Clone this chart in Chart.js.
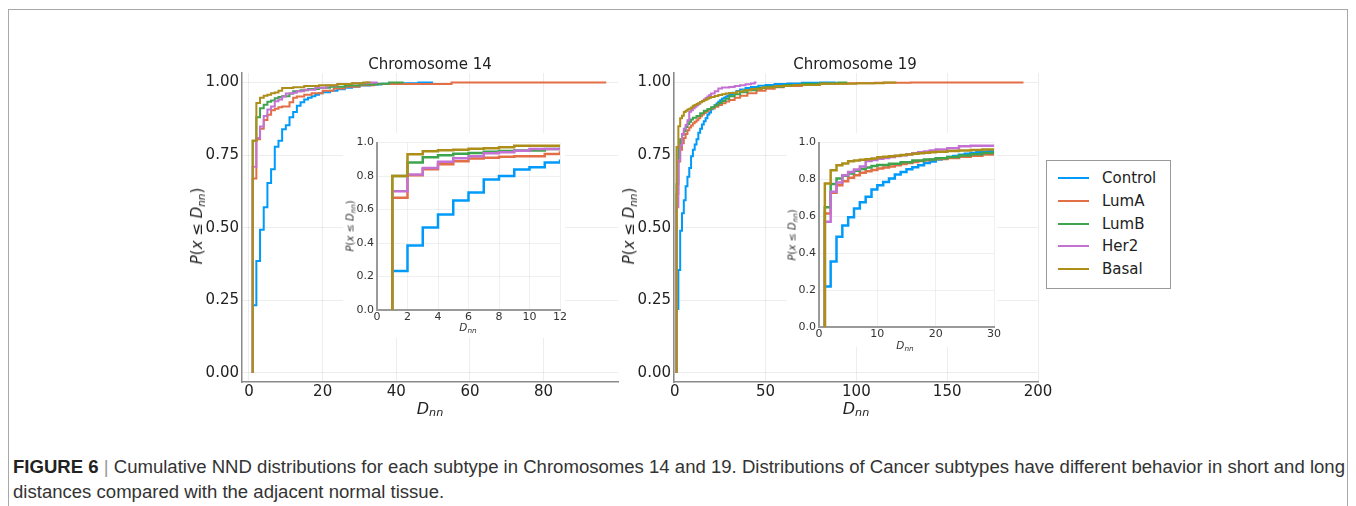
<!DOCTYPE html>
<html>
<head>
<meta charset="utf-8">
<script src="https://cdn.jsdelivr.net/npm/chart.js@4.4.1/dist/chart.umd.min.js"></script>
<style>
  body { margin: 0; width: 1356px; height: 506px; overflow: hidden; position: relative; background: #fff; font-family: "DejaVu Sans", sans-serif; color: #222; }
  .moldura { position: absolute; left: 8px; top: 9px; width: 1338px; height: 520px; border: 1px solid #a8a8a8; }
  canvas { position: absolute; }
  .fundo { position: absolute; background: #fff; }
  .txt { position: absolute; white-space: nowrap; transform: translate(-50%, -50%); }
  .rot { transform: translate(-50%, -50%) rotate(-90deg); }
  .txt sub { font-size: 70%; vertical-align: -0.25em; line-height: 0; }
  #legenda { position: absolute; left: 1046px; top: 160px; width: 123px; height: 127px; border: 1px solid #9a9a9a; background: #fff; }
  .item { position: absolute; left: 0; height: 20px; width: 120px; font-size: 15px; }
  .item i { position: absolute; left: 11px; top: 9px; width: 31px; height: 2px; }
  .item span { position: absolute; left: 55px; top: 1px; }
  .legenda-cap { position: absolute; left: 13px; white-space: nowrap; font-family: "Liberation Sans Narrow", "Liberation Sans", sans-serif; font-size: 17.5px; color: #333; transform-origin: 0 0; }
  .legenda-cap b { color: #222; }
</style>
</head>
<body>
<div class="moldura"></div>

<canvas id="g14" width="460" height="360" style="left:180px;top:60px"></canvas>
<canvas id="g19" width="450" height="360" style="left:612px;top:60px"></canvas>
<div class="fundo" style="left:343px;top:133px;width:222px;height:205px"></div>
<div class="fundo" style="left:787px;top:133px;width:210px;height:214px"></div>
<canvas id="i14" width="232" height="205" style="left:343px;top:133px"></canvas>
<canvas id="i19" width="225" height="214" style="left:787px;top:133px"></canvas>

<div class="txt" style="left:430px;top:64px;font-size:15px">Chromosome 14</div>
<div class="txt" style="left:855px;top:64px;font-size:15px">Chromosome 19</div>
<div class="txt rot" style="left:197px;top:226px;font-size:15px"><i>P</i>(<i>x</i> ≤ <i>D<sub>nn</sub></i>)</div>
<div class="txt rot" style="left:629px;top:226px;font-size:15px"><i>P</i>(<i>x</i> ≤ <i>D<sub>nn</sub></i>)</div>
<div class="txt" style="left:430px;top:408px;font-size:16px"><i>D<sub>nn</sub></i></div>
<div class="txt" style="left:856px;top:408px;font-size:16px"><i>D<sub>nn</sub></i></div>
<div class="txt rot" style="left:350px;top:226px;font-size:10px;color:#333"><i>P</i>(<i>x</i> ≤ <i>D<sub>nn</sub></i>)</div>
<div class="txt rot" style="left:792px;top:235px;font-size:10px;color:#333"><i>P</i>(<i>x</i> ≤ <i>D<sub>nn</sub></i>)</div>
<div class="txt" style="left:468px;top:327px;font-size:10.5px;color:#333"><i>D<sub>nn</sub></i></div>
<div class="txt" style="left:905px;top:345px;font-size:10.5px;color:#333"><i>D<sub>nn</sub></i></div>

<div id="legenda"></div>

<div class="legenda-cap" id="cap1" style="top:457px"><b>FIGURE 6</b> <span style="color:#999">|</span> Cumulative NND distributions for each subtype in Chromosomes 14 and 19. Distributions of Cancer subtypes have different behavior in short and long</div>
<div class="legenda-cap" id="cap2" style="top:482px">distances compared with the adjacent normal tissue.</div>

<script>
const nomes = ["Control", "LumA", "LumB", "Her2", "Basal"];
const cores = ["#009AFA", "#E36F47", "#3EA44E", "#C371D2", "#AC8E18"];

// pontos [D_nn, P(x <= D_nn)] - cromossomo 14
const c14Control = [[1,0.233],[2,0.386],[3,0.493],[4,0.571],[5,0.654],[6,0.702],[7,0.779],[8,0.80],[9,0.839],[10,0.853],[11,0.881],[12,0.899],[13,0.92],[14,0.932],[15,0.942],[16,0.948],[17,0.953],[18,0.958],[19,0.963],[20,0.967],[22,0.972],[24,0.977],[26,0.982],[28,0.986],[30,0.99],[33,0.993],[36,0.996],[42,0.998],[46,1.0],[50,1.0]];
const c14LumA = [[1,0],[1,0.67],[2,0.805],[3,0.841],[4,0.871],[5,0.889],[6,0.905],[7,0.91],[8,0.915],[9,0.918],[11,0.932],[12,0.948],[13,0.952],[15,0.958],[17,0.963],[20,0.972],[23,0.98],[26,0.986],[30,0.991],[34,0.995],[55,1.0],[97,1.0]];
const c14LumB = [[1,0],[1,0.80],[2,0.881],[3,0.912],[4,0.924],[5,0.934],[6,0.938],[7,0.946],[8,0.95],[9,0.953],[11,0.962],[12,0.97],[14,0.974],[16,0.978],[19,0.982],[22,0.986],[26,0.99],[30,0.993],[35,0.996],[38,1.0],[42,1.0]];
const c14Her2 = [[1,0],[1,0.71],[2,0.809],[3,0.849],[4,0.885],[5,0.907],[6,0.918],[7,0.936],[8,0.942],[9,0.952],[10,0.962],[12,0.965],[13,0.97],[15,0.975],[18,0.982],[21,0.99],[24,0.995],[28,0.998],[32,1.0],[35,1.0]];
const c14Basal = [[1,0],[1,0.80],[2,0.93],[3,0.948],[4,0.955],[5,0.958],[6,0.963],[7,0.966],[8,0.972],[9,0.981],[12,0.984],[15,0.988],[19,0.991],[24,0.995],[28,0.998],[31,1.0],[33,1.0]];

// cromossomo 19
const c19Control = [[1,0.22],[2,0.355],[3,0.49],[4,0.55],[5,0.595],[6,0.643],[7,0.676],[8,0.706],[9,0.746],[10,0.769],[11,0.787],[12,0.805],[13,0.827],[14,0.841],[15,0.856],[16,0.867],[17,0.877],[18,0.89],[19,0.897],[20,0.908],[21,0.915],[22,0.922],[23,0.928],[24,0.934],[25,0.939],[26,0.944],[27,0.948],[28,0.951],[29,0.955],[30,0.958],[32,0.965],[34,0.971],[36,0.976],[39,0.981],[42,0.985],[46,0.989],[50,0.992],[55,0.995],[62,0.997],[70,0.999],[80,1.0],[89,1.0]];
const c19LumA = [[1,0],[1,0.616],[2,0.728],[3,0.769],[4,0.791],[5,0.809],[6,0.823],[7,0.836],[8,0.845],[9,0.852],[10,0.86],[11,0.865],[12,0.87],[13,0.877],[14,0.884],[15,0.89],[16,0.895],[17,0.9],[18,0.904],[19,0.908],[20,0.911],[22,0.917],[24,0.923],[26,0.929],[28,0.935],[30,0.94],[33,0.948],[36,0.955],[40,0.963],[45,0.972],[50,0.979],[55,0.984],[60,0.988],[70,0.993],[80,0.996],[95,0.998],[110,0.999],[130,1.0],[192,1.0]];
const c19LumB = [[1,0],[1,0.65],[2,0.775],[3,0.805],[4,0.82],[5,0.832],[6,0.847],[7,0.857],[8,0.865],[9,0.873],[10,0.879],[12,0.885],[14,0.894],[16,0.903],[18,0.909],[20,0.915],[22,0.922],[24,0.93],[26,0.937],[28,0.944],[30,0.953],[33,0.96],[36,0.967],[40,0.974],[45,0.981],[50,0.986],[60,0.992],[70,0.996],[80,0.998],[90,1.0],[95,1.0]];
const c19Her2 = [[1,0],[1,0.571],[2,0.733],[3,0.784],[4,0.823],[5,0.841],[6,0.854],[7,0.87],[8,0.9],[9,0.905],[10,0.912],[11,0.917],[12,0.922],[13,0.927],[14,0.932],[15,0.937],[16,0.942],[17,0.947],[18,0.952],[19,0.957],[20,0.962],[22,0.97],[24,0.98],[26,0.983],[30,0.985],[33,0.988],[36,0.991],[39,0.994],[42,0.997],[44,1.0],[45,1.0]];
const c19Basal = [[1,0],[1,0.778],[2,0.85],[3,0.877],[4,0.886],[5,0.899],[6,0.903],[7,0.907],[8,0.91],[9,0.914],[10,0.92],[11,0.923],[12,0.926],[13,0.929],[14,0.933],[15,0.936],[16,0.939],[17,0.942],[18,0.945],[19,0.948],[20,0.95],[22,0.954],[24,0.957],[26,0.96],[28,0.962],[30,0.964],[34,0.969],[38,0.974],[42,0.978],[48,0.983],[55,0.988],[65,0.992],[80,0.996],[100,0.998],[115,1.0],[122,1.0]];

const series14 = [c14Control, c14LumA, c14LumB, c14Her2, c14Basal];
const series19 = [c19Control, c19LumA, c19LumB, c19Her2, c19Basal];

const ticksY = [0, 0.25, 0.5, 0.75, 1];
const ticksX14 = [0, 20, 40, 60, 80];
const ticksX19 = [0, 50, 100, 150, 200];
const ticksYInset = [0, 0.2, 0.4, 0.6, 0.8, 1];
const ticksXInset14 = [0, 2, 4, 6, 8, 10, 12];
const ticksXInset19 = [0, 10, 20, 30];

function criarGrafico(idCanvas, series, op) {
  const datasets = series.map((pontos, i) => ({
    label: nomes[i],
    data: pontos.map(p => ({ x: p[0], y: p[1] })),
    borderColor: cores[i],
    backgroundColor: cores[i],
    borderWidth: op.espessura,
    stepped: 'before',
    pointRadius: 0,
    fill: false,
    order: series.length - i
  }));

  const fonteTicks = { family: "DejaVu Sans", size: op.fonte };

  return new Chart(document.getElementById(idCanvas), {
    type: 'line',
    data: { datasets },
    options: {
      responsive: false,
      animation: false,
      events: [],
      layout: { padding: { top: op.padTopo, right: op.padDir, left: 0, bottom: 0 } },
      plugins: { legend: { display: false }, tooltip: { enabled: false } },
      scales: {
        x: {
          type: 'linear',
          min: op.xMin,
          max: op.xMax,
          afterBuildTicks: s => { s.ticks = op.ticksX.map(v => ({ value: v })); },
          afterFit: s => { s.height = op.alturaX; },
          ticks: { autoSkip: false, maxRotation: 0, padding: op.padTickX, color: op.corTexto, font: fonteTicks, callback: v => String(v) },
          grid: { color: op.corGrade, drawTicks: false },
          border: { color: op.corEixo, width: op.larguraEixo }
        },
        y: {
          type: 'linear',
          min: op.yMin,
          max: op.yMax,
          afterBuildTicks: s => { s.ticks = op.ticksY.map(v => ({ value: v })); },
          afterFit: s => { s.width = op.larguraY; },
          ticks: { autoSkip: false, padding: op.padTickY, color: op.corTexto, font: fonteTicks, callback: v => v.toFixed(op.casas) },
          grid: { color: op.corGrade, drawTicks: false },
          border: { color: op.corEixo, width: op.larguraEixo }
        }
      }
    }
  });
}

const opPrincipal = {
  espessura: 2, fonte: 15, corTexto: "#222", corGrade: "rgba(0,0,0,0.07)", corEixo: "#8a8a8a", larguraEixo: 1.5,
  yMin: -0.031, yMax: 1.033, ticksY: ticksY, casas: 2,
  padTopo: 13, alturaX: 38, larguraY: 62, padTickX: 1, padTickY: 3
};
const opInset = {
  espessura: 2.5, fonte: 11, corTexto: "#333", corGrade: "rgba(0,0,0,0.06)", corEixo: "#9a9a9a", larguraEixo: 2,
  yMin: 0, yMax: 1, ticksY: ticksYInset, casas: 1, padTopo: 9, padTickX: 1, padTickY: 3
};

criarGrafico("g14", series14, Object.assign({}, opPrincipal, { xMin: -1.9, xMax: 100.2, ticksX: ticksX14, padDir: 22 }));
criarGrafico("g19", series19, Object.assign({}, opPrincipal, { xMin: -0.4, xMax: 200, ticksX: ticksX19, padDir: 24 }));
criarGrafico("i14", series14, Object.assign({}, opInset, { xMin: 0, xMax: 12, ticksX: ticksXInset14, padDir: 15, larguraY: 34, alturaX: 28 }));
criarGrafico("i19", series19, Object.assign({}, opInset, { xMin: 0, xMax: 30, ticksX: ticksXInset19, padDir: 18, larguraY: 32, alturaX: 20 }));

// legenda em HTML a partir das series
const legenda = document.getElementById("legenda");
nomes.forEach((nome, i) => {
  const item = document.createElement("div");
  item.className = "item";
  item.style.top = (7 + i * 22.8) + "px";
  item.innerHTML = `<i style="background:${cores[i]}"></i><span>${nome}</span>`;
  legenda.appendChild(item);
});

// ajusta largura da legenda da figura
const cap1 = document.getElementById("cap1");
const cap2 = document.getElementById("cap2");
const escala = 1332 / cap1.getBoundingClientRect().width;
cap1.style.transform = `scaleX(${escala})`;
cap2.style.transform = `scaleX(${escala})`;
</script>
</body>
</html>
